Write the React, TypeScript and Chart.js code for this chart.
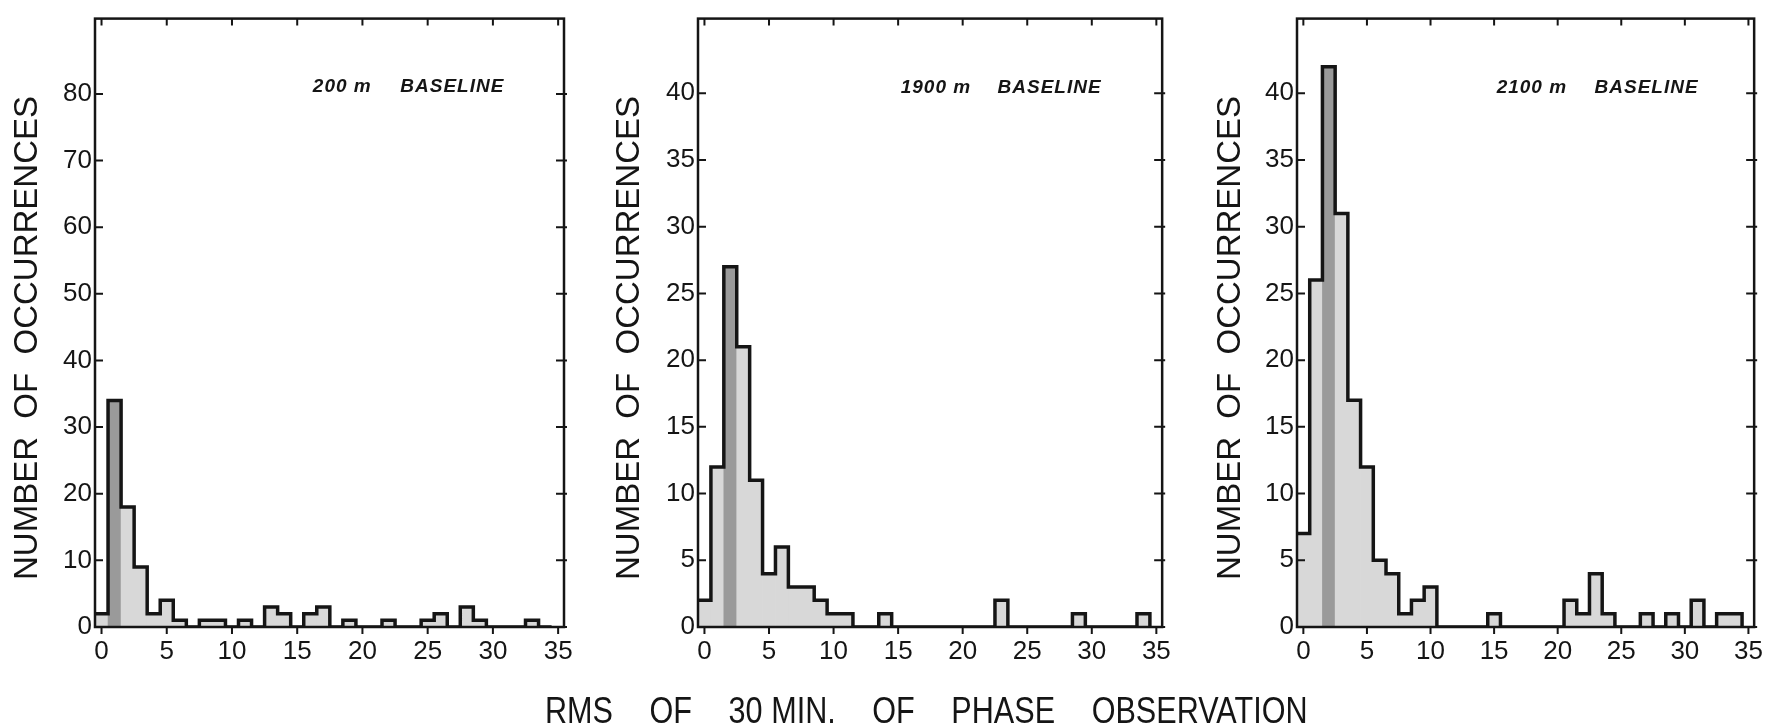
import React, { useEffect, useRef } from "react";
import { Chart, registerables } from "chart.js";

Chart.register(...registerables);

// ---- data ----
const RMS_BINS = [0, 1, 2, 3, 4, 5, 6, 7, 8, 9, 10, 11, 12, 13, 14, 15, 16, 17, 18, 19, 20, 21, 22, 23, 24, 25, 26, 27, 28, 29, 30, 31, 32, 33, 34];
const COUNTS_200M = [2, 34, 18, 9, 2, 4, 1, 0, 1, 1, 0, 1, 0, 3, 2, 0, 2, 3, 0, 1, 0, 0, 1, 0, 0, 1, 2, 0, 3, 1, 0, 0, 0, 1, 0];
const COUNTS_1900M = [2, 12, 27, 21, 11, 4, 6, 3, 3, 2, 1, 1, 0, 0, 1, 0, 0, 0, 0, 0, 0, 0, 0, 2, 0, 0, 0, 0, 0, 1, 0, 0, 0, 0, 1];
const COUNTS_2100M = [7, 26, 42, 31, 17, 12, 5, 4, 1, 2, 3, 0, 0, 0, 0, 1, 0, 0, 0, 0, 0, 2, 1, 4, 1, 0, 0, 1, 0, 1, 0, 2, 0, 1, 1];
const X_TICKS = [0, 5, 10, 15, 20, 25, 30, 35];
const Y_TICKS_200M = [0, 10, 20, 30, 40, 50, 60, 70, 80];
const Y_TICKS_1900M = [0, 5, 10, 15, 20, 25, 30, 35, 40];
const Y_TICKS_2100M = [0, 5, 10, 15, 20, 25, 30, 35, 40];
const Y_TITLE = "NUMBER  OF  OCCURRENCES";
const X_TITLE_WORDS = ["RMS", "OF", "30 MIN.", "OF", "PHASE", "OBSERVATION"];

const INK = "#151515";
const FONT = '"Liberation Sans", Arial, sans-serif';

type Panel = {
  left: number;
  width: number;
  yW: number;
  padR: number;
  counts: number[];
  yTicks: number[];
  yMax: number;
  baseLabel: string;
  labelX: number;
  labelX2: number;
  labelY: number;
  titleX: number;
};

const PANELS: Panel[] = [
  { left: 0, width: 590, yW: 95, padR: 26, counts: COUNTS_200M, yTicks: Y_TICKS_200M, yMax: 91.3, baseLabel: "200 m", labelX: 16.2, labelX2: 22.9, labelY: 81, titleX: 28 },
  { left: 590, width: 590, yW: 108, padR: 15, counts: COUNTS_1900M, yTicks: Y_TICKS_1900M, yMax: 45.6, baseLabel: "1900 m", labelX: 15.2, labelX2: 22.7, labelY: 40.4, titleX: 40 },
  { left: 1180, width: 592, yW: 117, padR: 9, counts: COUNTS_2100M, yTicks: Y_TICKS_2100M, yMax: 45.6, baseLabel: "2100 m", labelX: 15.2, labelX2: 22.9, labelY: 40.4, titleX: 51 },
];

function HistPanel({ p }: { p: Panel }) {
  const ref = useRef<HTMLCanvasElement | null>(null);
  useEffect(() => {
    if (!ref.current) return;
    const peak = Math.max(...p.counts);
    const barData = RMS_BINS.map((x, i) => ({ x, y: p.counts[i] }));
    const stepData = RMS_BINS.map((x, i) => ({ x: x - 0.5, y: p.counts[i] }));
    stepData.push({ x: RMS_BINS[RMS_BINS.length - 1] + 0.5, y: 0 });

    const decor = {
      id: "decor",
      afterDraw(chart: any) {
        const ctx = chart.ctx;
        const a = chart.chartArea;
        const xs = chart.scales.x;
        const ys = chart.scales.y;
        ctx.save();
        ctx.strokeStyle = INK;
        // tick marks
        ctx.lineWidth = 2;
        ctx.beginPath();
        xs.ticks.forEach((t: any) => {
          const px = xs.getPixelForValue(t.value);
          ctx.moveTo(px, a.bottom);
          ctx.lineTo(px, a.bottom + 7);
          ctx.moveTo(px, a.top);
          ctx.lineTo(px, a.top + 7);
        });
        ys.ticks.forEach((t: any) => {
          const py = ys.getPixelForValue(t.value);
          ctx.moveTo(a.left, py);
          ctx.lineTo(a.left + 8, py);
          ctx.moveTo(a.right - 8, py);
          ctx.lineTo(a.right + 3, py);
        });
        ctx.stroke();
        // frame
        ctx.lineWidth = 2.5;
        ctx.strokeRect(a.left, a.top, a.right - a.left, a.bottom - a.top);
        // baseline annotation
        ctx.fillStyle = INK;
        ctx.font = `italic bold 19px ${FONT}`;
        (ctx as any).letterSpacing = "1px";
        ctx.textBaseline = "middle";
        ctx.textAlign = "left";
        const ly = ys.getPixelForValue(p.labelY);
        ctx.fillText(p.baseLabel, xs.getPixelForValue(p.labelX), ly);
        ctx.fillText("BASELINE", xs.getPixelForValue(p.labelX2), ly);
        // y title
        (ctx as any).letterSpacing = "0px";
        ctx.font = `33px ${FONT}`;
        ctx.translate(p.titleX, 338);
        ctx.rotate(-Math.PI / 2);
        ctx.textAlign = "center";
        ctx.fillText(Y_TITLE, 0, 0);
        ctx.restore();
      },
    };

    const chart = new Chart(ref.current, {
      type: "bar",
      data: {
        datasets: [
          {
            type: "line",
            data: stepData,
            stepped: true,
            borderColor: INK,
            borderWidth: 3.5,
            pointRadius: 0,
            fill: false,
            borderCapStyle: "butt",
            borderJoinStyle: "miter",
            order: 0,
          } as any,
          {
            type: "bar",
            data: barData,
            backgroundColor: (c: any) => (c.raw && c.raw.y === peak ? "#9a9a9a" : "#d8d8d8"),
            borderWidth: 0,
            barPercentage: 1,
            categoryPercentage: 1,
            order: 1,
          } as any,
        ],
      },
      options: {
        animation: false,
        responsive: false,
        events: [],
        layout: { padding: { left: 0, right: p.padR, top: 14, bottom: 0 } },
        plugins: { legend: { display: false }, tooltip: { enabled: false } },
        scales: {
          x: {
            type: "linear",
            min: -0.5,
            max: 35.45,
            offset: false,
            grid: { display: false, drawTicks: false, offset: false },
            border: { display: false },
            afterBuildTicks: (s: any) => {
              s.ticks = X_TICKS.map((v) => ({ value: v }));
            },
            afterFit: (s: any) => {
              s.height = 100;
            },
            ticks: { color: INK, font: { family: FONT, size: 26 }, padding: 9, maxRotation: 0 },
          },
          y: {
            type: "linear",
            min: 0,
            max: p.yMax,
            grid: { display: false, drawTicks: false },
            border: { display: false },
            afterBuildTicks: (s: any) => {
              s.ticks = p.yTicks.map((v) => ({ value: v }));
            },
            afterFit: (s: any) => {
              s.width = p.yW;
            },
            ticks: { color: INK, font: { family: FONT, size: 26 }, padding: 3 },
          },
        },
      } as any,
      plugins: [decor],
    });
    return () => chart.destroy();
  }, [p]);

  return (
    <canvas
      ref={ref}
      width={p.width}
      height={727}
      style={{ position: "absolute", left: p.left, top: 0, width: p.width, height: 727 }}
    />
  );
}

export default function App() {
  return (
    <div style={{ position: "absolute", left: 0, top: 0, width: 1772, height: 727, overflow: "hidden", background: "#fff" }}>
      {PANELS.map((p, i) => (
        <HistPanel key={i} p={p} />
      ))}
      <div
        style={{
          position: "absolute",
          left: 545,
          top: 693,
          display: "flex",
          gap: 43,
          font: `36px ${FONT}`,
          lineHeight: 1,
          whiteSpace: "nowrap",
          color: INK,
          transform: "scaleX(0.85)",
          transformOrigin: "left top",
        }}
      >
        {X_TITLE_WORDS.map((w, i) => (
          <span key={i}>{w}</span>
        ))}
      </div>
    </div>
  );
}
